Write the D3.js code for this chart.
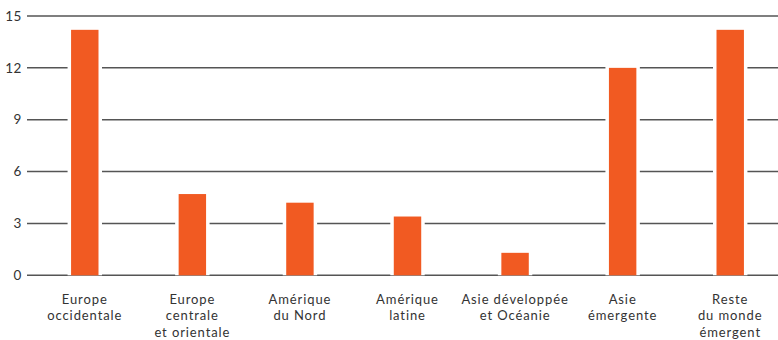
<!DOCTYPE html>
<html>
<head>
<meta charset="utf-8">
<script src="https://cdn.jsdelivr.net/npm/d3@7/dist/d3.min.js"></script>
<style>
  html, body { margin: 0; padding: 0; background: #fff; }
  svg { display: block; }
  text { font-family: Lato, "Open Sans", sans-serif; fill: #333; }
</style>
</head>
<body>
<svg id="chart" width="778" height="340"></svg>
<script>
// Regions (each label split over lines)
const categories = [
  ["Europe", "occidentale"],
  ["Europe", "centrale", "et orientale"],
  ["Amérique", "du Nord"],
  ["Amérique", "latine"],
  ["Asie développée", "et Océanie"],
  ["Asie", "émergente"],
  ["Reste", "du monde", "émergent"]
];
const values = [14.2, 4.7, 4.2, 3.4, 1.3, 12.0, 14.2];
const yTicks = [0, 3, 6, 9, 12, 15];

const W = 778, H = 340;
const svg = d3.select("#chart");

const x = d3.scaleBand()
  .domain(d3.range(categories.length))
  .range([31, 784])
  .paddingInner(0.745)
  .paddingOuter(0.3725);

const y = d3.scaleLinear().domain([0, 15]).range([275.3, 16]);

// horizontal gridlines
svg.append("g")
  .selectAll("line")
  .data(yTicks)
  .join("line")
  .attr("x1", 27)
  .attr("x2", W)
  .attr("y1", d => y(d))
  .attr("y2", d => y(d))
  .attr("stroke", "#555")
  .attr("stroke-width", 1.5);

// y tick labels
svg.append("g")
  .selectAll("text")
  .data(yTicks)
  .join("text")
  .attr("x", 22)
  .attr("y", d => y(d))
  .attr("dy", "0.35em")
  .attr("text-anchor", "end")
  .attr("font-size", 13.5)
  .attr("letter-spacing", 0.6)
  .text(d => d);

// bars with a white halo that breaks the gridlines
const pad = 3.5;
const bars = svg.append("g");
bars.selectAll("rect.halo")
  .data(values)
  .join("rect")
  .attr("class", "halo")
  .attr("x", (d, i) => x(i) - pad)
  .attr("width", x.bandwidth() + 2 * pad)
  .attr("y", d => y(d) - 1)
  .attr("height", d => y(0) - y(d) + 1)
  .attr("fill", "#fff");
bars.selectAll("rect.bar")
  .data(values)
  .join("rect")
  .attr("class", "bar")
  .attr("x", (d, i) => x(i))
  .attr("width", x.bandwidth())
  .attr("y", d => y(d))
  .attr("height", d => y(0) - y(d))
  .attr("fill", "#F15A22");

// category labels
const labels = svg.append("g")
  .selectAll("text")
  .data(categories)
  .join("text")
  .attr("text-anchor", "middle")
  .attr("font-size", 13)
  .attr("letter-spacing", 0.9)
  .attr("x", (d, i) => x(i) + x.bandwidth() / 2)
  .attr("y", 303.5);
labels.selectAll("tspan")
  .data(d => d)
  .join("tspan")
  .attr("x", function () { return this.parentNode.getAttribute("x"); })
  .attr("dy", (d, i) => i === 0 ? 0 : 16.5)
  .text(d => d);
</script>
</body>
</html>
